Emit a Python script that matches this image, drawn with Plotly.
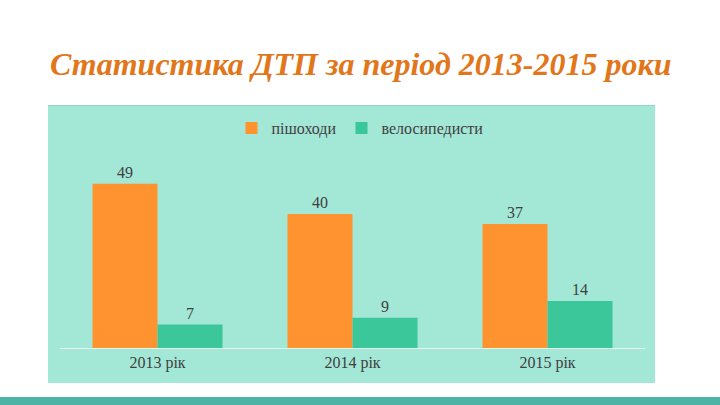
import plotly.graph_objects as go

categories = ["2013 рік", "2014 рік", "2015 рік"]
pedestrians = [49, 40, 37]
cyclists = [7, 9, 14]
series_names = ["пішоходи", "велосипедисти"]
title_text = "Статистика ДТП за період 2013-2015 роки"

W, H = 720, 405
SERIF = "Liberation Serif, Times New Roman, serif"

fig = go.Figure()
fig.add_trace(go.Bar(
    x=categories, y=pedestrians, name=series_names[0],
    marker=dict(color="#FF9330", line=dict(width=0)),
    text=pedestrians, textposition="outside",
    textfont=dict(family=SERIF, size=16, color="#404040"),
    cliponaxis=False,
))
fig.add_trace(go.Bar(
    x=categories, y=cyclists, name=series_names[1],
    marker=dict(color="#3CC79A", line=dict(width=0)),
    text=cyclists, textposition="outside",
    textfont=dict(family=SERIF, size=16, color="#404040"),
    cliponaxis=False,
))

def py(p):
    return 1 - p / H

fig.update_layout(
    width=W, height=H,
    margin=dict(l=0, r=0, t=0, b=0),
    paper_bgcolor="white",
    plot_bgcolor="rgba(0,0,0,0)",
    barmode="group",
    bargap=0.333,
    bargroupgap=0,
    showlegend=True,
    legend=dict(
        orientation="h", x=0.5, xanchor="center", y=py(128), yanchor="middle",
        font=dict(family=SERIF, size=16, color="#404040"),
        bgcolor="rgba(0,0,0,0)", itemwidth=30, tracegroupgap=0,
    ),
    xaxis=dict(
        domain=[60 / W, 645 / W],
        showline=True, linecolor="#E6F7F2", linewidth=1,
        showgrid=False, ticks="", zeroline=False,
        tickfont=dict(family=SERIF, size=16, color="#404040"),
        ticklabelstandoff=0,
    ),
    yaxis=dict(
        domain=[py(348), py(150)],
        range=[0, (348 - 150) / 3.35],
        visible=False, showgrid=False, zeroline=False,
    ),
    shapes=[
        dict(type="rect", xref="paper", yref="paper", layer="below",
             x0=48 / W, x1=655 / W, y0=py(383), y1=py(105),
             fillcolor="#A3E7D6", line=dict(width=0)),
        dict(type="rect", xref="paper", yref="paper", layer="below",
             x0=48 / W, x1=655 / W, y0=py(106), y1=py(105),
             fillcolor="#8FD8C8", line=dict(width=0)),
        dict(type="rect", xref="paper", yref="paper", layer="below",
             x0=0, x1=1, y0=0, y1=py(397),
             fillcolor="#4DB3A5", line=dict(width=0)),
    ],
    annotations=[
        dict(text="<b><i>" + title_text + "</i></b>", xref="paper", yref="paper",
             x=0.5, y=py(64), xanchor="center", yanchor="middle", showarrow=False,
             font=dict(family=SERIF, size=32, color="#E2761A")),
    ],
)

fig.write_html(
    "out.html",
    config={"displayModeBar": False},
    post_script="document.body.style.margin='0';document.body.style.padding='0';document.body.style.overflow='hidden';",
)
